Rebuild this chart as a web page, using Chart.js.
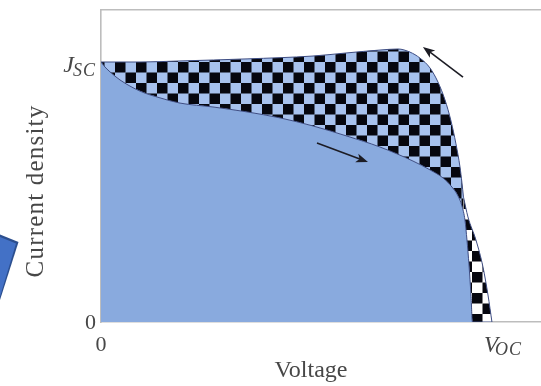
<!DOCTYPE html>
<html>
<head>
<meta charset="utf-8">
<title>J-V hysteresis</title>
<script src="https://cdn.jsdelivr.net/npm/chart.js@4.4.1/dist/chart.umd.min.js"></script>
<style>
  html, body { margin: 0; padding: 0; background: #fff; overflow: hidden; }
  #wrap { position: relative; width: 541px; height: 386px; }
  #wrap canvas { position: absolute; left: 0; top: 0; }
  /* bit of a slide shape poking in from the left edge */
  .tab { position: absolute; left: 0; top: 0; width: 541px; height: 386px; }
  #tabOuter { background: #2c4f8f; clip-path: polygon(0 234.5px, 18.5px 242px, 0 300px); }
  #tabInner { background: #4371c6; clip-path: polygon(0 237px, 16px 243.6px, 0 296.5px); }
</style>
</head>
<body>
<div id="wrap">
  <div class="tab" id="tabOuter"></div>
  <div class="tab" id="tabInner"></div>
  <canvas id="jvChart" width="541" height="386"></canvas>
</div>
<script>
// --- data (normalised units: V in tick steps, J relative to Jsc) ---
// forward scan (lower curve)
const forwardV = [0, 0.04, 0.12, 0.253, 0.52, 0.787, 1.053, 1.493, 1.947, 2.387, 2.827, 3.28, 3.72, 4.16, 4.387, 4.56, 4.68, 4.76, 4.813, 4.853, 4.88, 4.907, 4.933, 4.953, 5.213];
const forwardJ = [1.0, 0.985, 0.962, 0.931, 0.888, 0.862, 0.842, 0.827, 0.808, 0.785, 0.754, 0.715, 0.673, 0.619, 0.585, 0.554, 0.519, 0.485, 0.446, 0.392, 0.315, 0.219, 0.104, 0, 0];
// reverse scan (upper curve), split where the two curves almost touch
const reverseTopV = [0, 0.52, 1.053, 1.947, 2.827, 3.28, 3.72, 3.96, 4.12, 4.253, 4.387, 4.493, 4.587, 4.667, 4.733, 4.787, 4.813, 4.833];
const reverseTopJ = [1.0, 1.0, 1.004, 1.012, 1.023, 1.035, 1.046, 1.05, 1.038, 1.015, 0.977, 0.923, 0.854, 0.773, 0.685, 0.596, 0.535, 0.481];
const reverseTailV = [4.833, 4.893, 5.0, 5.093, 5.16, 5.213];
const reverseTailJ = [0.481, 0.404, 0.315, 0.212, 0.104, 0];

const JSC = 1.0;
const VOC = 5.213;

// scan direction arrows [tailV, tailJ, tipV, tipJ]
const arrowReverse = [4.827, 0.942, 4.293, 1.058];
const arrowForward = [2.88, 0.688, 3.56, 0.615];

const toPoints = (xs, ys) => xs.map((v, i) => ({ x: v, y: ys[i] }));

// checkerboard fills
function checker(light) {
  const c = document.createElement('canvas');
  c.width = 21; c.height = 21;
  const g = c.getContext('2d');
  g.fillStyle = light;
  g.fillRect(0, 0, 21, 21);
  g.fillStyle = '#06070f';
  g.fillRect(0, 0, 10.5, 10.5);
  g.fillRect(10.5, 10.5, 10.5, 10.5);
  const p = g.createPattern(c, 'repeat');
  p.setTransform(new DOMMatrix([1, 0, 0, 1, 10, 20]));
  return p;
}
const blueChecker = checker('#a7c2ee');
const whiteChecker = checker('#ffffff');

const lineCol = '#3d4c82';
const textCol = '#474747';

const textPlugin = {
  id: 'jvText',
  afterDraw(chart) {
    const { ctx, scales: { x, y } } = chart;
    ctx.save();
    ctx.fillStyle = textCol;
    ctx.textBaseline = 'alphabetic';

    // y ticks: 0 and J_SC
    ctx.font = '22px "Liberation Serif"';
    ctx.textAlign = 'right';
    ctx.fillText('0', x.left - 5, y.getPixelForValue(0) + 7);
    const jy = y.getPixelForValue(JSC);
    ctx.font = 'italic 18px "Liberation Serif"';
    ctx.letterSpacing = '1px';
    const wSC = ctx.measureText('SC').width;
    ctx.fillText('SC', x.left - 5, jy + 14);
    ctx.letterSpacing = '0px';
    ctx.font = 'italic 24px "Liberation Serif"';
    ctx.fillText('J', x.left - 5 - wSC + 1, jy + 10);

    // x ticks: 0 and V_OC
    ctx.font = '22px "Liberation Serif"';
    ctx.textAlign = 'center';
    ctx.fillText('0', x.getPixelForValue(0), y.bottom + 29);
    const vx = x.getPixelForValue(VOC);
    ctx.textAlign = 'left';
    ctx.font = 'italic 23px "Liberation Serif"';
    ctx.fillText('V', vx - 8, y.bottom + 30);
    const wV = ctx.measureText('V').width;
    ctx.font = 'italic 18px "Liberation Serif"';
    ctx.letterSpacing = '1px';
    ctx.fillText('OC', vx - 8 + wV - 3, y.bottom + 33);
    ctx.letterSpacing = '0px';

    // axis titles
    ctx.font = '24px "Liberation Serif"';
    ctx.textAlign = 'center';
    ctx.fillText('Voltage', x.left + 210, y.bottom + 55);
    ctx.translate(x.left - 58, y.top + 181);
    ctx.rotate(-Math.PI / 2);
    ctx.font = '25px "Liberation Serif"';
    ctx.letterSpacing = '1.2px';
    ctx.fillText('Current density', 0, 0);
    ctx.restore();

    // arrows
    [arrowReverse, arrowForward].forEach(a => {
      const x0 = x.getPixelForValue(a[0]), y0 = y.getPixelForValue(a[1]);
      const x1 = x.getPixelForValue(a[2]), y1 = y.getPixelForValue(a[3]);
      const ang = Math.atan2(y1 - y0, x1 - x0);
      ctx.save();
      ctx.strokeStyle = '#1c1c24';
      ctx.fillStyle = '#1c1c24';
      ctx.lineWidth = 1.6;
      ctx.beginPath();
      ctx.moveTo(x0, y0);
      ctx.lineTo(x1 - 8 * Math.cos(ang), y1 - 8 * Math.sin(ang));
      ctx.stroke();
      ctx.translate(x1, y1);
      ctx.rotate(ang);
      ctx.beginPath();
      ctx.moveTo(0, 0);
      ctx.lineTo(-12, -4.5);
      ctx.lineTo(-9, 0);
      ctx.lineTo(-12, 4.5);
      ctx.closePath();
      ctx.fill();
      ctx.restore();
    });
  }
};

const axisBorder = { display: true, color: '#bdbdbd', width: 1.6 };

new Chart(document.getElementById('jvChart'), {
  type: 'line',
  data: {
    datasets: [
      {
        label: 'Forward',
        data: toPoints(forwardV, forwardJ),
        borderColor: lineCol,
        borderWidth: 1,
        backgroundColor: '#89aade',
        fill: 'origin',
        pointRadius: 0,
        cubicInterpolationMode: 'monotone'
      },
      {
        label: 'Reverse',
        data: toPoints(reverseTopV, reverseTopJ),
        borderColor: lineCol,
        borderWidth: 1,
        fill: { target: 0, above: blueChecker, below: blueChecker },
        pointRadius: 0,
        cubicInterpolationMode: 'monotone'
      },
      {
        label: 'Reverse tail',
        data: toPoints(reverseTailV, reverseTailJ),
        borderColor: lineCol,
        borderWidth: 1,
        fill: { target: 0, above: whiteChecker, below: whiteChecker },
        pointRadius: 0,
        cubicInterpolationMode: 'monotone'
      }
    ]
  },
  options: {
    responsive: false,
    animation: false,
    layout: { padding: { left: 101, right: 0, top: 10, bottom: 64 } },
    scales: {
      x: {
        type: 'linear', min: 0, max: 5.867,
        grid: { display: false, drawTicks: false },
        ticks: { display: false },
        border: axisBorder
      },
      xTop: {
        type: 'linear', axis: 'x', position: 'top', min: 0, max: 5.867,
        grid: { display: false, drawTicks: false },
        ticks: { display: false },
        border: axisBorder
      },
      y: {
        min: 0, max: 1.2,
        grid: { display: false, drawTicks: false },
        ticks: { display: false },
        border: axisBorder
      }
    },
    plugins: {
      legend: { display: false },
      tooltip: { enabled: false }
    }
  },
  plugins: [textPlugin]
});
</script>
</body>
</html>
